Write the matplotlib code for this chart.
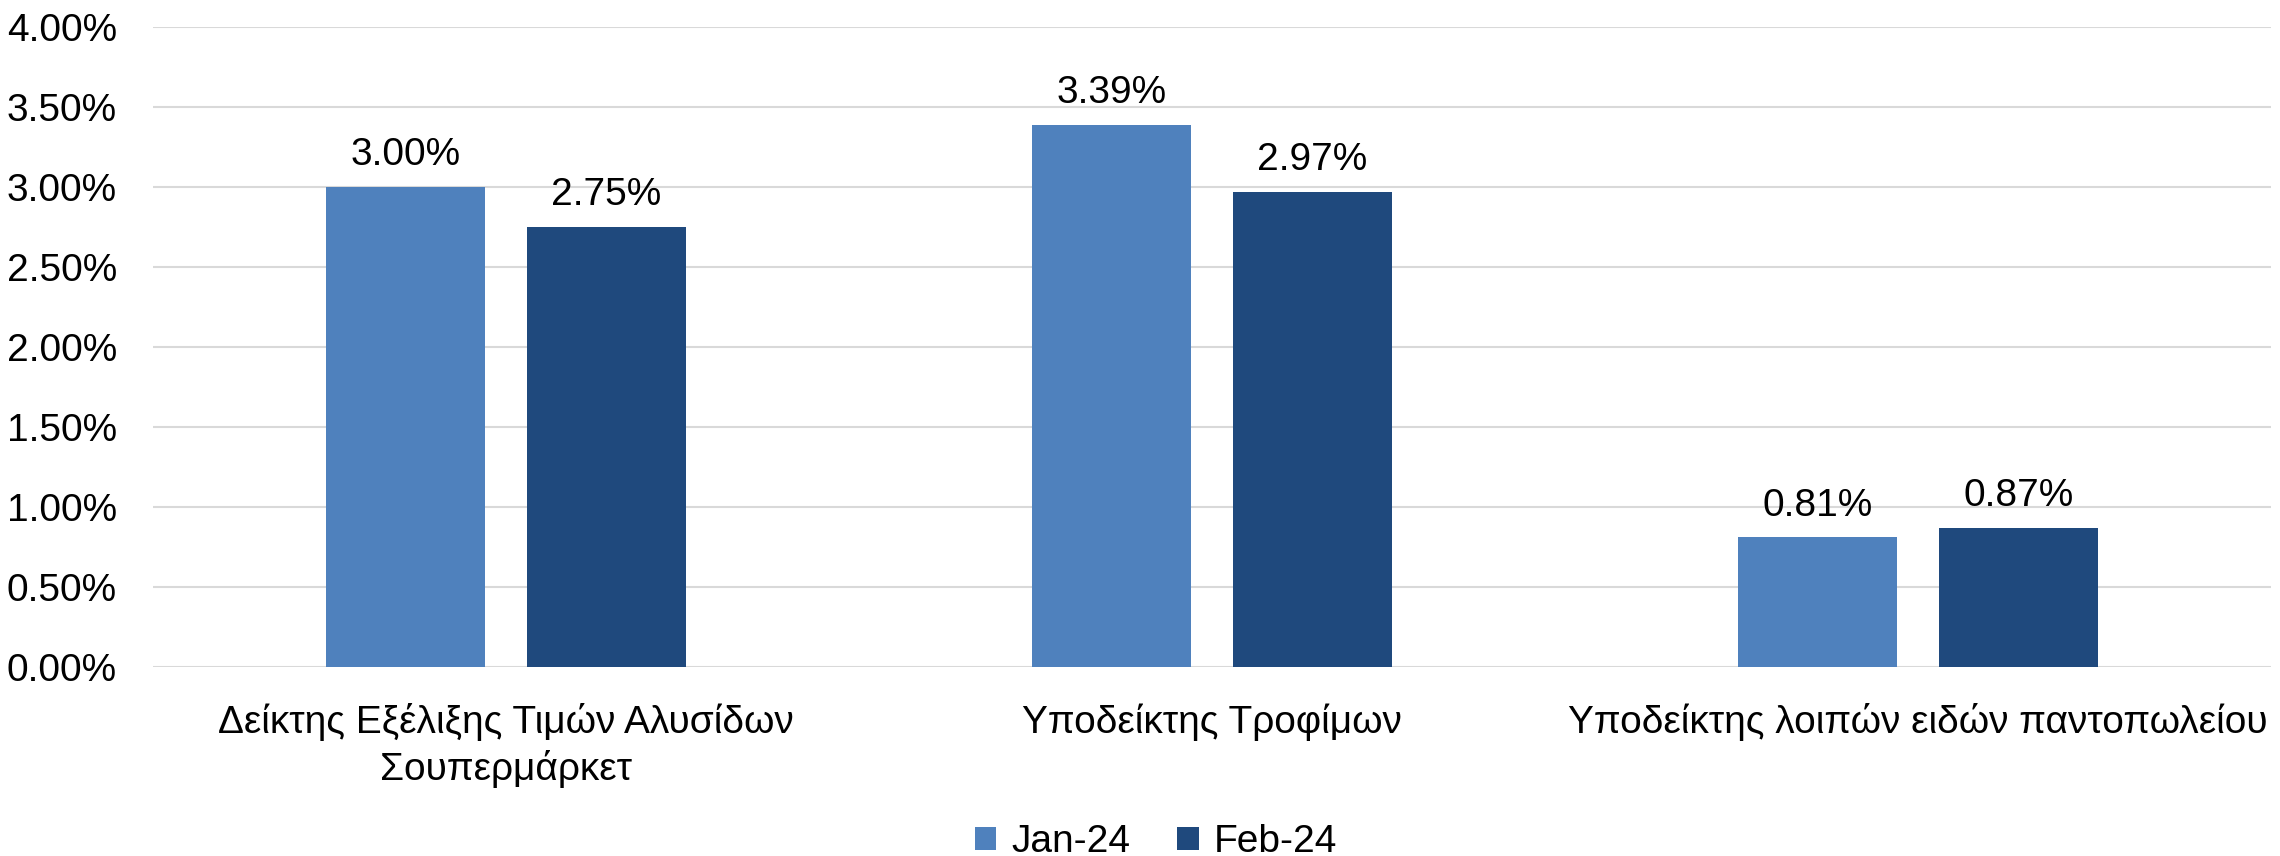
import matplotlib
matplotlib.use("Agg")
import matplotlib.pyplot as plt
from matplotlib import font_manager
from matplotlib.ticker import PercentFormatter
import numpy as np

categories = ["Δείκτης Εξέλιξης Τιμών Αλυσίδων\nΣουπερμάρκετ",
              "Υποδείκτης Τροφίμων",
              "Υποδείκτης λοιπών ειδών παντοπωλείου"]
series_names = ["Jan-24", "Feb-24"]
jan_values = [3.00, 3.39, 0.81]
feb_values = [2.75, 2.97, 0.87]
y_ticks = [0.0, 0.5, 1.0, 1.5, 2.0, 2.5, 3.0, 3.5, 4.0]

names = {f.name for f in font_manager.fontManager.ttflist}
fam = [f for f in ["Liberation Sans Narrow", "Liberation Sans", "DejaVu Sans"] if f in names]
plt.rcParams['font.family'] = fam

colors = ["#4F81BD", "#1F497D"]
FS = 28

fig = plt.figure(figsize=(22.8, 8.56), dpi=100)
ax = fig.add_axes([153/2280, 1-667/856, (2271-153)/2280, (667-27)/856])

x = np.arange(len(categories))
w = 0.225
off = 0.142
for vals, c, name, o in [(jan_values, colors[0], series_names[0], -off),
                         (feb_values, colors[1], series_names[1], off)]:
    bars = ax.bar(x + o, vals, width=w, color=c, label=name, zorder=3)
    for b, v in zip(bars, vals):
        ax.annotate(f"{v:.2f}%", (b.get_x() + b.get_width()/2, v),
                    xytext=(0, 10), textcoords="offset points",
                    ha="center", va="bottom", fontsize=FS, color="black")

ax.set_xlim(-0.5, len(categories) - 0.5)
ax.set_ylim(0, 4.0)
ax.set_yticks(y_ticks)
ax.yaxis.set_major_formatter(PercentFormatter(decimals=2))
ax.set_xticks(x)
ax.set_xticklabels(categories, fontsize=FS, linespacing=1.3)
ax.tick_params(axis='y', labelsize=FS, length=0, pad=26)
ax.tick_params(axis='x', length=0, pad=26)
ax.grid(axis='y', color="#D9D9D9", linewidth=1.5, zorder=0)
for s in ax.spines.values():
    s.set_visible(False)

leg = fig.legend(loc="center", bbox_to_anchor=(1156/2280, 1-842/856), ncol=2,
                 frameon=False, fontsize=FS, handlelength=0.55, handleheight=0.55,
                 handletextpad=0.4, columnspacing=1.2)

fig.savefig("out.png", dpi=100)
